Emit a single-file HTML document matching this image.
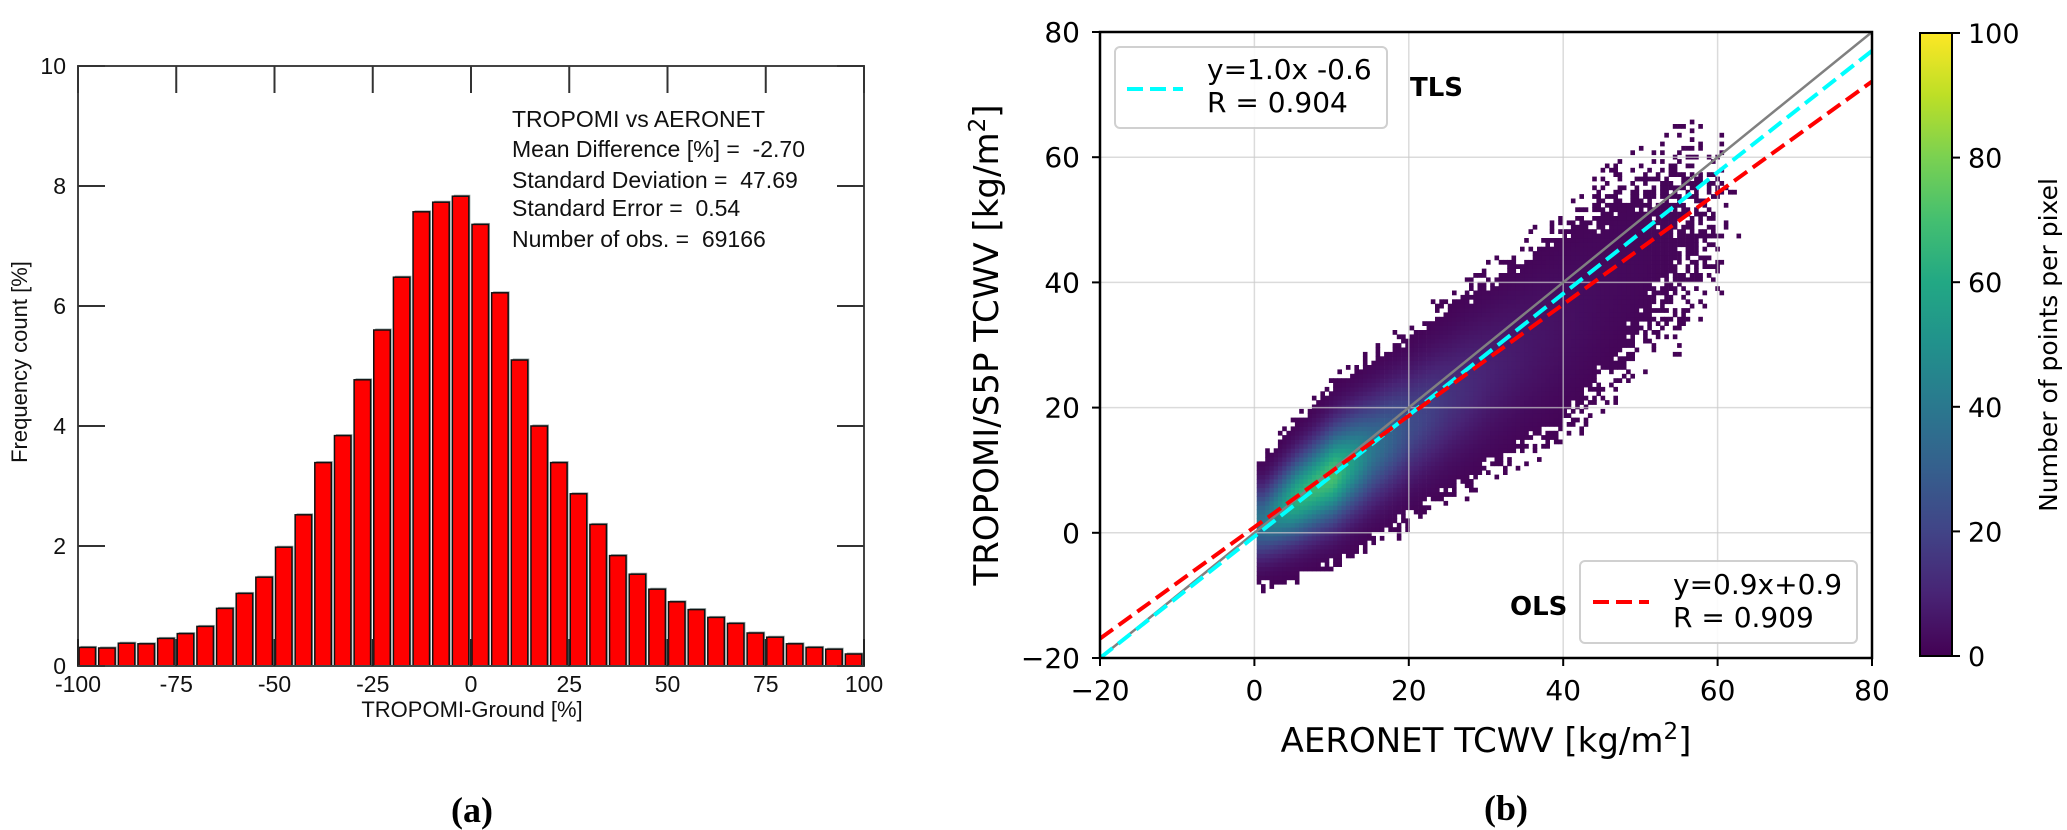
<!DOCTYPE html>
<html><head><meta charset="utf-8"><style>
html,body{margin:0;padding:0;background:#fff;}
svg{display:block;}
.pre{white-space:pre;}
</style></head><body>
<svg id="fig" width="2067" height="830" xmlns="http://www.w3.org/2000/svg">
<rect width="2067" height="830" fill="#fff"/>
<g id="left"></g>
<g id="right"></g>
</svg>
<script>
// ---------- Histogram data ----------
const binStarts = [-100,-95,-90,-85,-80,-75,-70,-65,-60,-55,-50,-45,-40,-35,-30,-25,-20,-15,-10,-5,0,5,10,15,20,25,30,35,40,45,50,55,60,65,70,75,80,85,90,95];
const binFreq = [0.31,0.30,0.38,0.37,0.46,0.54,0.66,0.96,1.21,1.48,1.98,2.52,3.39,3.84,4.77,5.6,6.48,7.57,7.73,7.83,7.36,6.22,5.1,4.0,3.39,2.87,2.36,1.84,1.53,1.28,1.07,0.94,0.81,0.71,0.55,0.48,0.37,0.31,0.28,0.2];
const histXTicks = [-100,-75,-50,-25,0,25,50,75,100];
const histYTicks = [0,2,4,6,8,10];
const statsLines = ["TROPOMI vs AERONET","Mean Difference [%] =  -2.70","Standard Deviation =  47.69","Standard Error =  0.54","Number of obs. =  69166"];

// ---------- Scatter (2D histogram) data ----------
const colX = [1,5,10,15,20,25,30,35,40,45,50,55,60,62];
const colCenter = [1.5,5,9,13,17,21,25,29,33,38,43,47,51,52];
const colSpread = [3.6,4.2,4.8,5.2,5.6,6.2,7,7.8,8.8,9.8,10.5,11,10,8];
const colPeak = [38,62,70,38,22,14,9,6,4,2.6,1.9,1.3,0.8,0.4];
const scTicks = [-20,0,20,40,60,80];
const cbTicks = [0,20,40,60,80,100];
const tlsFit = [0.97,-0.6];
const olsFit = [0.89,0.9];

const NS="http://www.w3.org/2000/svg";
function mk(tag,attrs,parent,text){const e=document.createElementNS(NS,tag);for(const k in attrs)e.setAttribute(k,attrs[k]);if(text!==undefined)e.textContent=text;parent.appendChild(e);return e;}

// ---------- Left histogram ----------
const L=document.getElementById('left');
const hx0=78,hx1=864,hy0=666,hy1=66;
const hX=v=>hx0+(v+100)/200*(hx1-hx0);
const hY=v=>hy0-v/10*(hy0-hy1);
binStarts.forEach((s,i)=>{
  const x=hX(s)+1, w=(hX(s+5)-hX(s))*0.84, y=hY(binFreq[i]);
  const sh=mk('rect',{x:x+1.5,y:y-1.5,width:w,height:hy0-y+1.5,fill:'#9aa'},L);
  
  
  const r=mk('rect',{x:x,y:y,width:w,height:hy0-y,fill:'#ff0000',stroke:'#111','stroke-width':1.5},L);
  
  
});
const frame=mk('rect',{x:hx0,y:hy1,width:hx1-hx0,height:hy0-hy1,fill:'none',stroke:'#444','stroke-width':2},L);


histXTicks.forEach(v=>{
  const x=hX(v);
  const t1=mk('line',{x1:x,y1:hy1,x2:x,y2:hy1+27,stroke:'#333','stroke-width':2},L);
  
  
  const t2=mk('line',{x1:x,y1:hy0,x2:x,y2:hy0-27,stroke:'#222','stroke-width':2},L);
  
  
  const lb=mk('text',{x:x,y:692,'text-anchor':'middle','font-family':'Liberation Sans, sans-serif','font-size':23,fill:'#111'},L,String(v));
  
  
});
histYTicks.forEach(v=>{
  const y=hY(v);
  const t1=mk('line',{x1:hx0,y1:y,x2:hx0+27,y2:y,stroke:'#333','stroke-width':2},L);
  
  
  const t2=mk('line',{x1:hx1,y1:y,x2:hx1-27,y2:y,stroke:'#333','stroke-width':2},L);
  
  
  const lb=mk('text',{x:66,y:y+8,'text-anchor':'end','font-family':'Liberation Sans, sans-serif','font-size':23,fill:'#111'},L,String(v));
  
  
});
const hxt=mk('text',{x:472,y:717,'text-anchor':'middle','font-family':'Liberation Sans, sans-serif','font-size':22,fill:'#111'},L,'TROPOMI-Ground [%]');


const hyt=mk('text',{x:0,y:0,transform:'translate(27,362) rotate(-90)','text-anchor':'middle','font-family':'Liberation Sans, sans-serif','font-size':22,fill:'#111'},L,'Frequency count [%]');


statsLines.forEach((s,i)=>{
  const t=mk('text',{x:512,y:[127,157,188,216,247][i],'font-family':'Liberation Sans, sans-serif','font-size':23,fill:'#111','class':'pre'},L,s);
  
  
});
const pa=mk('text',{x:472,y:822,'text-anchor':'middle','font-family':'Liberation Serif, serif','font-weight':'bold','font-size':36,fill:'#000'},L,'(a)');



// ---------- Right scatter ----------
const R=document.getElementById('right');
const sx0=1100,sx1=1872,sy0=658,sy1=32;
const sX=v=>sx0+(v+20)/100*(sx1-sx0);
const sY=v=>sy0-(v+20)/100*(sy0-sy1);
const vir=[[68,1,84],[72,36,117],[65,68,135],[53,95,141],[42,120,142],[33,145,140],[34,168,132],[68,191,112],[122,209,81],[189,223,38],[253,231,37]];
function viridis(t){t=Math.max(0,Math.min(1,t));const p=t*10,i=Math.min(9,Math.floor(p)),f=p-i;const a=vir[i],b=vir[i+1];return 'rgb('+a.map((c,k)=>Math.round(c+(b[k]-c)*f)).join(',')+')';}
function interp(arr,x){if(x<=colX[0])return arr[0];for(let i=0;i<colX.length-1;i++){if(x<=colX[i+1]){const f=(x-colX[i])/(colX[i+1]-colX[i]);return arr[i]+(arr[i+1]-arr[i])*f;}}return arr[arr.length-1];}
function hash(i,j){let h=(i*374761393+j*668265263)>>>0;h=((h^(h>>>13))*1274126177)>>>0;return ((h^(h>>>16))>>>0)/4294967296;}
const scat=mk('g',{},R);


const dx=0.55,dy=0.7;
for(let i=0;;i++){
  const x=0.3+i*dx; if(x>62.5)break;
  const c=interp(colCenter,x),s=interp(colSpread,x),pk=interp(colPeak,x);
  for(let j=0;;j++){
    const y=-18+j*dy; if(y>78)break;
    const z=(y-c)/s; const cnt=pk*Math.exp(-0.5*z*z)+Math.min(1.2,pk*0.04)*Math.exp(-0.5*(z/1.5)*(z/1.5));
    const th=0.3+hash(i,j)*1.4;
    if(cnt<th)continue;
    const r=mk('rect',{x:sX(x).toFixed(1),y:sY(y+dy).toFixed(1),width:(dx*7.72+0.4).toFixed(1),height:(dy*6.26+0.4).toFixed(1),fill:viridis(cnt/100)},scat);
    
    
  }
}
scTicks.forEach(v=>{
  const gx=mk('line',{x1:sX(v),y1:sy1,x2:sX(v),y2:sy0,stroke:'#ccc','stroke-width':1.5,opacity:0.7},R);
  
  
  const gy=mk('line',{x1:sx0,y1:sY(v),x2:sx1,y2:sY(v),stroke:'#ccc','stroke-width':1.5,opacity:0.7},R);
  
  
  const tx=mk('line',{x1:sX(v),y1:sy0,x2:sX(v),y2:sy0+8,stroke:'#000','stroke-width':2},R);
  
  
  const ty=mk('line',{x1:sx0,y1:sY(v),x2:sx0-8,y2:sY(v),stroke:'#000','stroke-width':2},R);
  
  
  const lx=mk('text',{x:sX(v),y:700,'text-anchor':'middle','font-family':'DejaVu Sans, sans-serif','font-size':28,fill:'#000'},R,v<0?'\u2212'+(-v):String(v));
  
  
  const ly=mk('text',{x:1080,y:sY(v)+10,'text-anchor':'end','font-family':'DejaVu Sans, sans-serif','font-size':28,fill:'#000'},R,v<0?'\u2212'+(-v):String(v));
  
  
});
const clip=mk('clipPath',{id:'pc'},R);mk('rect',{x:sx0,y:sy1,width:sx1-sx0,height:sy0-sy1},clip);
const one=mk('line',{x1:sX(-20),y1:sY(-20),x2:sX(80),y2:sY(80),stroke:'#808080','stroke-width':2.5,'clip-path':'url(#pc)'},R);


const tl=mk('line',{x1:sX(-20),y1:sY(tlsFit[0]*-20+tlsFit[1]),x2:sX(80),y2:sY(tlsFit[0]*80+tlsFit[1]),stroke:'#00ffff','stroke-width':4,'stroke-dasharray':'16 7','clip-path':'url(#pc)'},R);


const ol=mk('line',{x1:sX(-20),y1:sY(olsFit[0]*-20+olsFit[1]),x2:sX(80),y2:sY(olsFit[0]*80+olsFit[1]),stroke:'#ff0000','stroke-width':4,'stroke-dasharray':'16 7','clip-path':'url(#pc)'},R);


const sf=mk('rect',{x:sx0,y:sy1,width:sx1-sx0,height:sy0-sy1,fill:'none',stroke:'#000','stroke-width':2.5},R);


// legends
const lg1=mk('g',{},R);


mk('rect',{x:1115,y:47,width:272,height:81,rx:5,fill:'#fff',stroke:'#ccc','stroke-width':2,opacity:0.9},lg1);
mk('line',{x1:1127,y1:89,x2:1183,y2:89,stroke:'#00ffff','stroke-width':4,'stroke-dasharray':'16 7'},lg1);
mk('text',{x:1207,y:79,'font-family':'DejaVu Sans, sans-serif','font-size':28,fill:'#000'},lg1,'y=1.0x -0.6');
mk('text',{x:1207,y:112,'font-family':'DejaVu Sans, sans-serif','font-size':28,fill:'#000'},lg1,'R = 0.904');
const tlsT=mk('text',{x:1410,y:96,'font-family':'DejaVu Sans, sans-serif','font-weight':'bold','font-size':26,fill:'#000'},R,'TLS');


const lg2=mk('g',{},R);


mk('rect',{x:1580,y:561,width:277,height:82,rx:5,fill:'#fff',stroke:'#ccc','stroke-width':2,opacity:0.9},lg2);
mk('line',{x1:1593,y1:602,x2:1649,y2:602,stroke:'#ff0000','stroke-width':4,'stroke-dasharray':'16 7'},lg2);
mk('text',{x:1673,y:594,'font-family':'DejaVu Sans, sans-serif','font-size':28,fill:'#000'},lg2,'y=0.9x+0.9');
mk('text',{x:1673,y:627,'font-family':'DejaVu Sans, sans-serif','font-size':28,fill:'#000'},lg2,'R = 0.909');
const olsT=mk('text',{x:1510,y:615,'font-family':'DejaVu Sans, sans-serif','font-weight':'bold','font-size':26,fill:'#000'},R,'OLS');


// axis titles
const xt=mk('text',{x:1486,y:752,'text-anchor':'middle','font-family':'DejaVu Sans, sans-serif','font-size':34,fill:'#000'},R);


xt.innerHTML='AERONET TCWV [kg/m<tspan dy="-13" font-size="23">2</tspan><tspan dy="13">]</tspan>';
const yt=mk('text',{x:0,y:0,transform:'translate(998,345) rotate(-90)','text-anchor':'middle','font-family':'DejaVu Sans, sans-serif','font-size':34,fill:'#000'},R);


yt.innerHTML='TROPOMI/S5P TCWV [kg/m<tspan dy="-13" font-size="23">2</tspan><tspan dy="13">]</tspan>';
// colorbar
const defs=mk('defs',{},R);
const grad=mk('linearGradient',{id:'vg',x1:0,y1:1,x2:0,y2:0},defs);
vir.forEach((c,i)=>mk('stop',{offset:i/10,'stop-color':'rgb('+c.join(',')+')'},grad));
const cb=mk('rect',{x:1920,y:33,width:32,height:623,fill:'url(#vg)',stroke:'#000','stroke-width':2},R);


cbTicks.forEach(v=>{
  const y=656-v/100*623;
  const t=mk('line',{x1:1952,y1:y,x2:1960,y2:y,stroke:'#000','stroke-width':2},R);
  
  
  const l=mk('text',{x:1968,y:y+10,'font-family':'DejaVu Sans, sans-serif','font-size':27,fill:'#000'},R,String(v));
  
  
});
const cbt=mk('text',{x:0,y:0,transform:'translate(2057,345) rotate(-90)','text-anchor':'middle','font-family':'DejaVu Sans, sans-serif','font-size':25,fill:'#000'},R,'Number of points per pixel');


const pb=mk('text',{x:1506,y:820,'text-anchor':'middle','font-family':'Liberation Serif, serif','font-weight':'bold','font-size':36,fill:'#000'},R,'(b)');


</script>
</body></html>
